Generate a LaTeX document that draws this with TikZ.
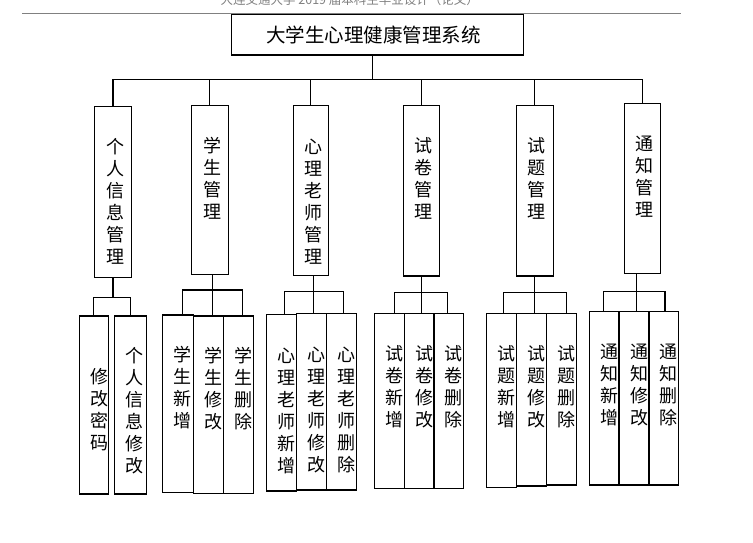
\documentclass[tikz,border=0pt]{standalone}
\usepackage{fontspec}
\usepackage{tikz}
\usetikzlibrary{positioning, calc}
\newfontfamily\cjk{Noto Sans CJK SC}
\definecolor{hdrgray}{RGB}{128, 128, 128}

\begin{document}
\begin{tikzpicture}[x=1pt, y=-1pt, line width=1.2pt,
	box/.style={draw, inner sep=0pt, minimum width=36pt, minimum height=170pt},
	leaf/.style={draw, inner sep=0pt, minimum width=30pt},
	vtxt/.style={font=\cjk\fontsize{18}{22}\selectfont, align=center, anchor=north, inner sep=0pt}]
	\useasboundingbox (0,0) rectangle (753,543);
	% page header
	\node[anchor=base west, inner sep=0pt, text=hdrgray, font=\cjk\fontsize{12.5}{14}\selectfont] (header) at (220,5) {大连交通大学 2019 届本科生毕业设计（论文）};
	\draw[hdrgray, line width=0.9pt] (22,13.3) -- (681,13.3);
	% root
	\node[draw, inner sep=0pt, minimum width=291.6pt, minimum height=40.7pt, font=\cjk\fontsize{19.5}{22}\selectfont] (title) at (377.5,34.7) {\hspace*{-8pt}大学生心理健康管理系统};
	% modules
	\node[box, minimum width=37.4pt, minimum height=171pt] (m1) at (113,191.8) {};
	\node[box, minimum width=37pt, minimum height=169pt] (m2) at (209.8,189.8) {};
	\node[box, minimum width=35pt] (m3) at (310.8,190.3) {};
	\node[box, minimum height=170.7pt] (m4) at (421.3,190.7) {};
	\node[box, minimum width=37pt, minimum height=170.7pt] (m5) at (534.8,190.7) {};
	\node[box] (m6) at (642.3,188.3) {};
	\node[vtxt] (tm1) at ([xshift=2pt,yshift=-32pt]m1.north) {个\\人\\信\\息\\管\\理};
	\node[vtxt] (tm2) at ([xshift=2.5pt,yshift=-32pt]m2.north) {学\\生\\管\\理};
	\node[vtxt] (tm3) at ([xshift=2.5pt,yshift=-34pt]m3.north) {心\\理\\老\\师\\管\\理};
	\node[vtxt] (tm4) at ([xshift=2pt,yshift=-32pt]m4.north) {试\\卷\\管\\理};
	\node[vtxt] (tm5) at ([xshift=2pt,yshift=-32pt]m5.north) {试\\题\\管\\理};
	\node[vtxt] (tm6) at ([xshift=2pt,yshift=-33pt]m6.north) {通\\知\\管\\理};
	\coordinate (bus) at (372.3,79.3);
	\draw (title.south -| bus) -- (bus);
	\draw (m1.north) -- (m1.north |- bus) -- (m6.north |- bus) -- (m6.north);
	\draw (m2.north) -- (m2.north |- bus);
	\draw (m3.north) -- (m3.north |- bus);
	\draw (m4.north) -- (m4.north |- bus);
	\draw (m5.north) -- (m5.north |- bus);
	% functions
	\node[leaf, minimum width=29pt, minimum height=178pt] (a1) at (93.8,405) {};
	\node[leaf, minimum width=32pt, minimum height=178pt] (a2) at (130.3,405) {};
	\node[leaf, minimum width=31pt, minimum height=177.3pt] (b1) at (177.8,403.7) {};
	\node[leaf, minimum height=177.3pt] (b2) at (208.3,404.7) {};
	\node[leaf, minimum height=177.3pt] (b3) at (238.3,404.7) {};
	\node[leaf, minimum height=176.7pt] (c1) at (281.7,402.7) {};
	\node[leaf, minimum height=176.7pt] (c2) at (311.5,401.7) {};
	\node[leaf, minimum height=176.7pt] (c3) at (341.3,401.7) {};
	\node[leaf, minimum height=175pt] (d1) at (389.5,400.8) {};
	\node[leaf, minimum height=175pt] (d2) at (419.5,400.8) {};
	\node[leaf, minimum height=175pt] (d3) at (448.8,400.8) {};
	\node[leaf, minimum height=174pt] (e1) at (501.5,400.3) {};
	\node[leaf, minimum height=172.7pt] (e2) at (531.5,399.7) {};
	\node[leaf, minimum height=171.7pt] (e3) at (561.5,399.2) {};
	\node[leaf, minimum height=173.3pt] (f1) at (604.3,398.3) {};
	\node[leaf, minimum height=173.3pt] (f2) at (634,398.3) {};
	\node[leaf, minimum height=173.3pt] (f3) at (663.5,398.3) {};
	\node[vtxt] (ta1) at ([xshift=6pt,yshift=-52pt]a1.north) {修\\改\\密\\码};
	\node[vtxt] (ta2) at ([xshift=4pt,yshift=-31pt]a2.north) {个\\人\\信\\息\\修\\改};
	\node[vtxt] (tb1) at ([xshift=5pt,yshift=-31pt]b1.north) {学\\生\\新\\增};
	\node[vtxt] (tb2) at ([xshift=5pt,yshift=-31pt]b2.north) {学\\生\\修\\改};
	\node[vtxt] (tb3) at ([xshift=5pt,yshift=-31pt]b3.north) {学\\生\\删\\除};
	\node[vtxt] (tc1) at ([xshift=5pt,yshift=-34pt]c1.north) {心\\理\\老\\师\\新\\增};
	\node[vtxt] (tc2) at ([xshift=5pt,yshift=-34pt]c2.north) {心\\理\\老\\师\\修\\改};
	\node[vtxt] (tc3) at ([xshift=5pt,yshift=-34pt]c3.north) {心\\理\\老\\师\\删\\除};
	\node[vtxt] (td1) at ([xshift=5pt,yshift=-32pt]d1.north) {试\\卷\\新\\增};
	\node[vtxt] (td2) at ([xshift=5pt,yshift=-32pt]d2.north) {试\\卷\\修\\改};
	\node[vtxt] (td3) at ([xshift=5pt,yshift=-32pt]d3.north) {试\\卷\\删\\除};
	\node[vtxt] (te1) at ([xshift=5pt,yshift=-32pt]e1.north) {试\\题\\新\\增};
	\node[vtxt] (te2) at ([xshift=5pt,yshift=-32pt]e2.north) {试\\题\\修\\改};
	\node[vtxt] (te3) at ([xshift=5pt,yshift=-32pt]e3.north) {试\\题\\删\\除};
	\node[vtxt] (tf1) at ([xshift=5pt,yshift=-32pt]f1.north) {通\\知\\新\\增};
	\node[vtxt] (tf2) at ([xshift=5pt,yshift=-32pt]f2.north) {通\\知\\修\\改};
	\node[vtxt] (tf3) at ([xshift=5pt,yshift=-32pt]f3.north) {通\\知\\删\\除};
	% module to function links
	\draw (m1.south) -- (m1.south |- 0,297.3);
	\draw (a1.north) |- (m1.south |- 0,297.3) -| (a2.north);
	\draw ([xshift=2.5pt]m2.south) -- ([xshift=4pt]b2.north);
	\draw ([xshift=4.5pt]b1.north) |- (m2.south |- 0,290) -| ([xshift=4pt]b3.north);
	\draw ([xshift=2.5pt]m3.south) -- ([xshift=2.5pt]m3.south |- c2.north);
	\draw ([xshift=2.5pt]c1.north) |- (m3.south |- 0,291.7) -| ([xshift=2pt]c3.north);
	\draw (m4.south) -- (m4.south |- d2.north);
	\draw ([xshift=5pt]d1.north) |- (m4.south |- 0,292.3) -| ([xshift=-1pt]d3.north);
	\draw (m5.south) -- (m5.south |- e2.north);
	\draw ([xshift=2pt]e1.north) |- (m5.south |- 0,292.3) -| ([xshift=5pt]e3.north);
	\draw ([xshift=-6pt]m6.south) -- ([xshift=-6pt]m6.south |- f2.north);
	\draw ([xshift=-1pt]f1.north) |- (m6.south |- 0,291.7) -| ([xshift=1.5pt]f3.north);
\end{tikzpicture}
\end{document}
